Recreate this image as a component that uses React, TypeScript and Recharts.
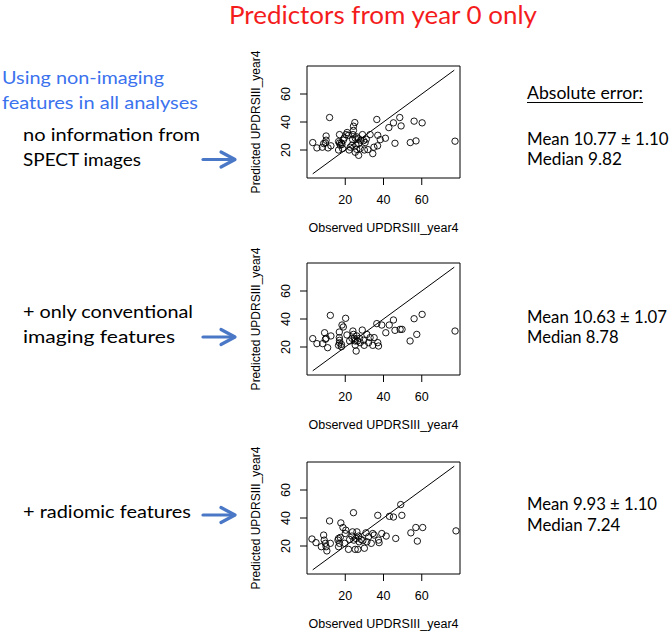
import React from "react";
import { ScatterChart, Scatter, XAxis, YAxis, ReferenceLine, ReferenceArea } from "recharts";

// ─── Data ───────────────────────────────────────────────────────────────────

const AXIS_TICKS = [20, 40, 60];
const AXIS_DOMAIN: [number, number] = [0, 80];
const IDENTITY_RANGE = [3, 77];

// panel 1: no information from SPECT images
const noSpectObserved = [
  3, 5.2, 8, 8.7, 9.6, 10, 10, 11, 11.8, 12.5, 16.5, 17, 17, 17.4, 16.5, 18, 18.3, 18.6, 19, 19.5,
  20.5, 21, 21.7, 22, 22.6, 23.5, 23.8, 24, 24.3, 24.3, 25, 25.2, 25.6, 25.2, 26, 26, 27, 27, 27,
  27.8, 28.2, 29, 29.6, 30, 30.4, 31, 31.8, 33, 34.4, 35, 36.5, 36.9, 37, 38.3, 41, 42.8, 45.2, 46,
  48.5, 49.2, 54, 56, 57, 60.2, 77.4,
];
const noSpectPredicted = [
  25.3, 21.5, 22, 24.6, 25, 30, 27, 21.5, 43.2, 23, 26, 31, 25, 23.4, 20, 25, 24, 21, 27, 28.6,
  31, 32.5, 30.5, 20, 22, 23.4, 27.7, 31, 37, 34, 39.6, 28.6, 23.4, 18.4, 29.4, 20.5, 16.2, 24.6, 28,
  21, 27, 31, 26.7, 20, 25.3, 27.7, 20.3, 31, 17.4, 22, 41.8, 23, 30.5, 27.4, 28.4, 36, 39.4, 24.8,
  43.2, 37.2, 25.3, 40.6, 26.5, 39.4, 26.3,
];

// panel 2: + only conventional imaging features
const conventionalObserved = [
  3, 5.2, 8.2, 9.2, 9.6, 10, 10.8, 12.2, 12.5, 16.9, 16.9, 17, 17, 16.5, 18, 18, 18.3, 19, 20.2, 20.9,
  22.3, 23.5, 24, 24.3, 24.7, 25.2, 25.2, 25.7, 26, 26.4, 27.5, 27.8, 28.9, 29.6, 29.9, 31.3, 32.2,
  33, 34.4, 35.1, 36.5, 37, 37.4, 39.1, 41.2, 43, 45.2, 46, 48.7, 49.7, 53.9, 56, 57.4, 60.2, 77.4,
];
const conventionalPredicted = [
  26, 22.4, 22.4, 30.2, 25.5, 26.2, 19.5, 42.6, 27.9, 26.7, 30.7, 24.8, 23, 21.2, 21.9, 20.2, 35.7,
  34.3, 40.5, 28.6, 24.3, 26.2, 31.4, 29, 26.2, 24.3, 21.4, 17.1, 27.9, 24.3, 26.2, 23.1, 32.1, 24.8,
  21.2, 29, 23.1, 26.7, 21.2, 26.7, 36.7, 23.1, 20.7, 35.7, 30.2, 35.7, 39.3, 31.9, 32.6, 32.6, 24.3,
  40.2, 29, 43.3, 31.4,
];

// panel 3: + radiomic features
const radiomicObserved = [
  2.6, 4.7, 7.5, 8.7, 9, 9.6, 10.4, 10, 11.8, 12.2, 16.2, 16.5, 16.5, 17, 17.4, 17.7, 18.8, 19.7, 20,
  20.3, 21.7, 22.3, 23.5, 23.8, 24.3, 24.5, 25.2, 25.6, 26.1, 26.6, 27, 27.3, 28.3, 29.2, 30, 30.8,
  31.3, 32.2, 33.6, 34.4, 35.1, 37, 37.4, 37.7, 39.1, 41.4, 43.1, 45.2, 46.4, 49, 49.6, 54.3, 56.9,
  57.7, 60.5, 77.9,
];
const radiomicPredicted = [
  25, 22.4, 19.5, 27.8, 24.2, 21.9, 16.5, 19.5, 37.9, 21.9, 24.2, 25.4, 19.5, 21.9, 26.1, 36.5, 33.2,
  21.9, 28.9, 31.3, 17.6, 24.7, 27.1, 30.1, 43.8, 24.2, 17.6, 25.4, 30.1, 17.6, 27.1, 23, 24.7, 23.8,
  18.4, 29.4, 23, 26.6, 21.9, 28.9, 27.8, 41.9, 24.2, 22.4, 28.9, 27.1, 41.2, 40.7, 25.4, 49.6, 41.9,
  29.4, 33.2, 23.5, 33.2, 30.8,
];

const rowLabels = [
  ["no information from", "SPECT images"],
  ["+ only conventional", "imaging features"],
  ["+ radiomic features"],
];
const meanLabels = ["Mean 10.77 \u00b1 1.10", "Mean 10.63 \u00b1 1.07", "Mean 9.93 \u00b1 1.10"];
const medianLabels = ["Median 9.82", "Median 8.78", "Median 7.24"];

// ─── Layout ─────────────────────────────────────────────────────────────────

const CHART_LEFT = 240;
const CHART_W = 230;
const CHART_H = 190;
const MARGIN_TOP = 10;
const Y_AXIS_W = 67;
const BOX_H = 112;
const BOX_LEFT = CHART_LEFT + Y_AXIS_W;
const BOX_W = CHART_W - Y_AXIS_W - 10;
const BOX_TOPS = [66, 263, 462];

const PLOT_FONT = "'Liberation Sans', Arial, sans-serif";
const SLIDE_FONT = "Lato, 'Noto Sans', sans-serif";
const ARROW_BLUE = "#4a78c6";

const zip = (xs: number[], ys: number[]) => xs.map((x, i) => ({ x, y: ys[i] }));

const panels = [
  zip(noSpectObserved, noSpectPredicted),
  zip(conventionalObserved, conventionalPredicted),
  zip(radiomicObserved, radiomicPredicted),
];

// ─── Components ─────────────────────────────────────────────────────────────

function OpenCircle(props: any) {
  return <circle cx={props.cx} cy={props.cy} r={3.2} fill="none" stroke="#000" strokeWidth={0.9} />;
}

function Panel({ top, data }: { top: number; data: { x: number; y: number }[] }) {
  const boxBottomLocal = MARGIN_TOP + BOX_H;
  return (
    <div style={{ position: "absolute", left: CHART_LEFT, top: top - MARGIN_TOP }}>
      <ScatterChart width={CHART_W} height={CHART_H} margin={{ top: MARGIN_TOP, right: 10, bottom: 0, left: 0 }}>
        <XAxis
          type="number"
          dataKey="x"
          domain={AXIS_DOMAIN}
          ticks={AXIS_TICKS}
          axisLine={false}
          tickLine={{ stroke: "#000" }}
          tickSize={7}
          height={CHART_H - MARGIN_TOP - BOX_H}
          tick={(p: any) => (
            <text x={p.x} y={boxBottomLocal + 26} textAnchor="middle" fontSize={12.5} fontFamily={PLOT_FONT} fill="#000">
              {p.payload.value}
            </text>
          )}
        />
        <YAxis
          type="number"
          dataKey="y"
          domain={AXIS_DOMAIN}
          ticks={AXIS_TICKS}
          axisLine={false}
          tickLine={{ stroke: "#000" }}
          tickSize={7}
          width={Y_AXIS_W}
          tick={(p: any) => (
            <text
              x={50}
              y={p.y}
              transform={`rotate(-90, 50, ${p.y})`}
              textAnchor="middle"
              fontSize={12.5}
              fontFamily={PLOT_FONT}
              fill="#000"
            >
              {p.payload.value}
            </text>
          )}
        />
        <ReferenceArea x1={0} x2={80} y1={0} y2={80} fill="none" stroke="#000" strokeWidth={1} ifOverflow="visible" />
        <ReferenceLine
          segment={[
            { x: IDENTITY_RANGE[0], y: IDENTITY_RANGE[0] },
            { x: IDENTITY_RANGE[1], y: IDENTITY_RANGE[1] },
          ]}
          stroke="#000"
          strokeWidth={1}
          ifOverflow="visible"
        />
        <Scatter data={data} shape={OpenCircle} isAnimationActive={false} />
      </ScatterChart>
    </div>
  );
}

function Arrow({ y }: { y: number }) {
  return (
    <g stroke={ARROW_BLUE} strokeWidth={3.2} fill="none" strokeLinecap="round" strokeLinejoin="round">
      <line x1={203} y1={y} x2={234} y2={y} />
      <polyline points={`221,${y - 7.5} 235,${y} 221,${y + 7.5}`} />
    </g>
  );
}

export default function App() {
  const rowText = [
    { lines: [140.7, 165.7], widths: [177, 118], arrow: 159.5 },
    { lines: [318.3, 343.3], widths: [170, 152], arrow: 337 },
    { lines: [518.3], widths: [168], arrow: 515 },
  ];
  const statText = [
    { mean: 145, median: 165, meanW: 141.5, medianW: 95 },
    { mean: 323, median: 343, meanW: 140, medianW: 91.6 },
    { mean: 510, median: 530.5, meanW: 130, medianW: 93.3 },
  ];

  return (
    <div style={{ position: "absolute", left: 0, top: 0, width: 672, height: 634, background: "#fff", overflow: "hidden" }}>
      {BOX_TOPS.map((t, i) => (
        <Panel key={i} top={t} data={panels[i]} />
      ))}
      <svg width={672} height={634} style={{ position: "absolute", left: 0, top: 0, pointerEvents: "none" }}>
        <text x={229} y={24} fontSize={25} fontFamily={SLIDE_FONT} fill="#f41c1c" textLength={308} lengthAdjust="spacingAndGlyphs">
          Predictors from year 0 only
        </text>
        <text x={2} y={83.5} fontSize={18} fontFamily={SLIDE_FONT} fill="#3b72ee" textLength={162} lengthAdjust="spacingAndGlyphs">
          Using non-imaging
        </text>
        <text x={2} y={109} fontSize={18} fontFamily={SLIDE_FONT} fill="#3b72ee" textLength={196} lengthAdjust="spacingAndGlyphs">
          features in all analyses
        </text>

        {rowText.map((r, i) => (
          <g key={i}>
            {rowLabels[i].map((s, j) => (
              <text
                key={j}
                x={23}
                y={r.lines[j]}
                fontSize={18}
                fontFamily={SLIDE_FONT}
                fill="#000"
                textLength={r.widths[j]}
                lengthAdjust="spacingAndGlyphs"
              >
                {s}
              </text>
            ))}
            <Arrow y={r.arrow} />
          </g>
        ))}

        <text x={527} y={99.3} fontSize={18} fontFamily={SLIDE_FONT} fill="#000" textLength={116} lengthAdjust="spacingAndGlyphs">
          Absolute error:
        </text>
        <line x1={527} x2={643} y1={102.5} y2={102.5} stroke="#000" strokeWidth={1.2} />
        {statText.map((s, i) => (
          <g key={i}>
            <text x={527} y={s.mean} fontSize={16.5} fontFamily={SLIDE_FONT} fill="#000" textLength={s.meanW} lengthAdjust="spacingAndGlyphs">
              {meanLabels[i]}
            </text>
            <text x={527} y={s.median} fontSize={17} fontFamily={SLIDE_FONT} fill="#000" textLength={s.medianW} lengthAdjust="spacingAndGlyphs">
              {medianLabels[i]}
            </text>
          </g>
        ))}

        {BOX_TOPS.map((t, i) => (
          <g key={i} fontFamily={PLOT_FONT} fontSize={12} fill="#000">
            <text x={260} y={t + BOX_H / 2} transform={`rotate(-90, 260, ${t + BOX_H / 2})`} textAnchor="middle">
              Predicted UPDRSIII_year4
            </text>
            <text x={BOX_LEFT + BOX_W / 2} y={t + BOX_H + 54} fontSize={12.5} textAnchor="middle">
              Observed UPDRSIII_year4
            </text>
          </g>
        ))}
      </svg>
    </div>
  );
}
